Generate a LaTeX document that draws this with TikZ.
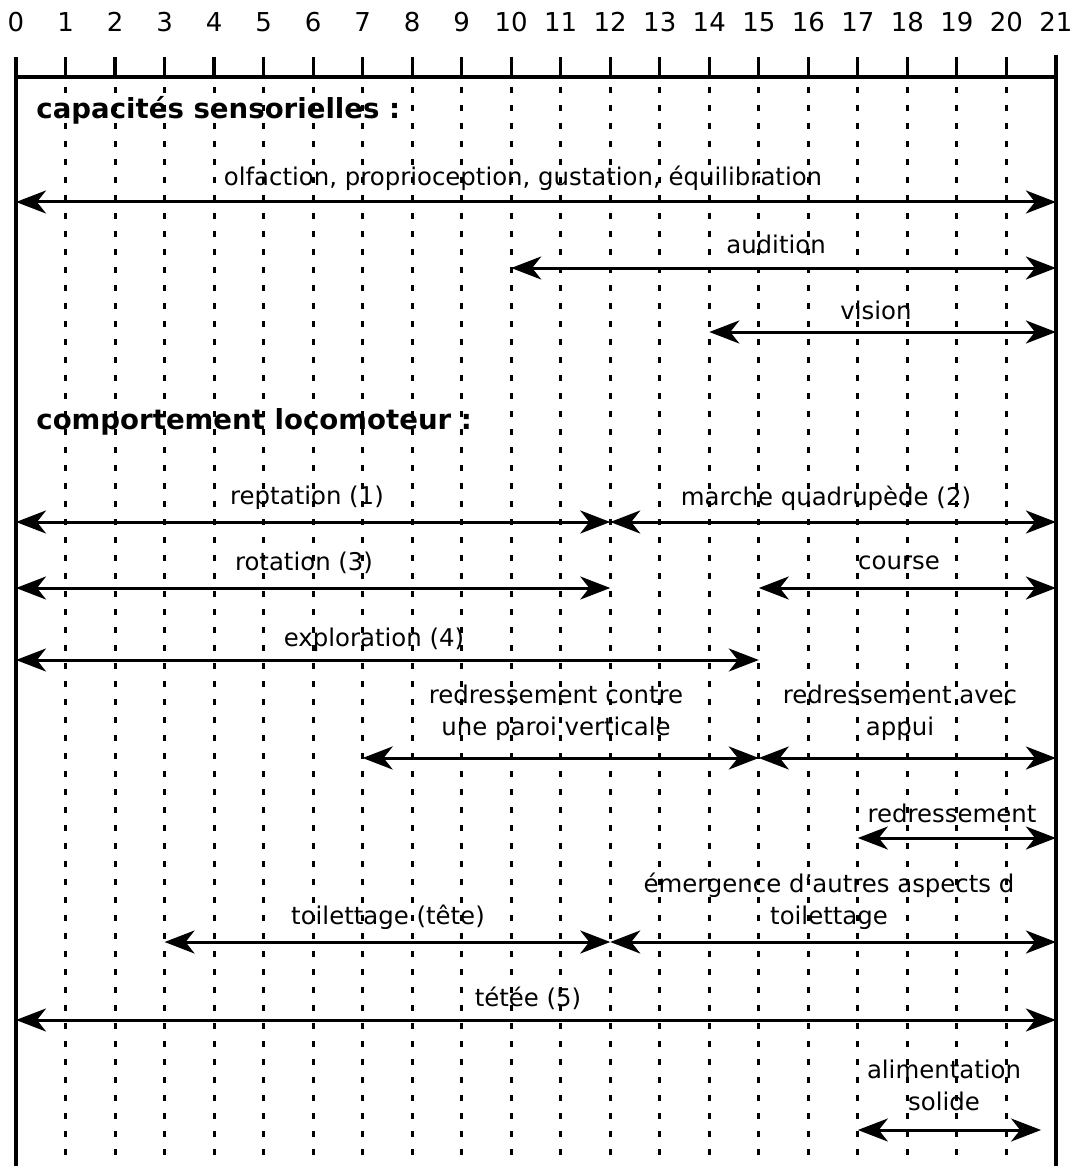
\documentclass[tikz,border=0pt]{standalone}
\usepackage{fontspec}
\setmainfont{DejaVu Sans}
\usetikzlibrary{arrows.meta}
\begin{document}
\begin{tikzpicture}[x=0.5pt,y=-0.5pt,
  frame/.style={line width=1.6pt},
  griddots/.style={line width=1.5pt, dash pattern=on 3pt off 6pt},
  span/.style={line width=1.5pt, {Stealth[length=15pt,width=11.5pt,inset=4.5pt]}-{Stealth[length=15pt,width=11.5pt,inset=4.5pt]}},
  lab/.style={font=\fontsize{12.2pt}{16pt}\selectfont, align=center, inner sep=0pt},
  head/.style={font=\fontsize{13.8pt}{16pt}\selectfont\bfseries, anchor=west, inner sep=0pt},
  num/.style={font=\fontsize{13pt}{14pt}\selectfont, inner sep=0pt}]
\useasboundingbox (0,0) rectangle (1080,1166);
% axis numbers
\foreach \i in {0,...,21} {
  \node[num] (n\i) at ({16+\i*49.52},22) {\i};
}
% frame and axis
\draw[frame] (16,57) -- (16,1166);
\draw[frame] (1056,55) -- (1056,1166);
\draw[frame] (16,77) -- (1056,77);
\foreach \i in {1,...,20} {
  \draw[frame] ({16+\i*49.52},57) -- ({16+\i*49.52},77);
  \draw[griddots] ({16+\i*49.52},87) -- ({16+\i*49.52},1166);
}
% headings
\node[head] (h1) at (36,110) {capacités sensorielles :};
\node[head] (h2) at (36,422) {comportement locomoteur :};
% endpoints
\foreach \i in {0,3,7,10,12,14,15,17,21} {
  \coordinate (x\i) at ({16+\i*49.52},0);
}
% capacités sensorielles
\node[lab] (l1) at (523,178) {olfaction, proprioception, gustation, équilibration};
\coordinate (a1l) at (x0 |- 0,202); \coordinate (a1r) at (x21 |- 0,202);
\draw[span] (a1l) -- (a1r);
\node[lab] (l2) at (776,244) {audition};
\coordinate (a2l) at (x10 |- 0,268); \coordinate (a2r) at (x21 |- 0,268);
\draw[span] (a2l) -- (a2r);
\node[lab] (l3) at (876,310) {vision};
\coordinate (a3l) at (x14 |- 0,332); \coordinate (a3r) at (x21 |- 0,332);
\draw[span] (a3l) -- (a3r);
% comportement locomoteur
\node[lab] (l4) at (307,498) {reptation (1)};
\coordinate (a4l) at (x0 |- 0,522); \coordinate (a4r) at (x12 |- 0,522);
\draw[span] (a4l) -- (a4r);
\node[lab] (l5) at (826,498) {marche quadrupède (2)};
\coordinate (a5r) at (x21 |- 0,522);
\draw[span] (a4r) -- (a5r);
\node[lab] (l6) at (304,563) {rotation (3)};
\coordinate (a6l) at (x0 |- 0,588); \coordinate (a6r) at (x12 |- 0,588);
\draw[span] (a6l) -- (a6r);
\node[lab] (l7) at (899,563) {course};
\coordinate (a7l) at (x15 |- 0,588); \coordinate (a7r) at (x21 |- 0,588);
\draw[span] (a7l) -- (a7r);
\node[lab] (l8) at (374,640) {exploration (4)};
\coordinate (a8l) at (x0 |- 0,660); \coordinate (a8r) at (x15 |- 0,660);
\draw[span] (a8l) -- (a8r);
\node[lab] (l9) at (556,713) {redressement contre\\une paroi verticale};
\coordinate (a9l) at (x7 |- 0,758); \coordinate (a9r) at (x15 |- 0,758);
\draw[span] (a9l) -- (a9r);
\node[lab] (l10) at (900,713) {redressement avec\\appui};
\coordinate (a10r) at (x21 |- 0,758);
\draw[span] (a9r) -- (a10r);
\node[lab] (l11) at (952,813) {redressement};
\coordinate (a11l) at (x17 |- 0,838); \coordinate (a11r) at (x21 |- 0,838);
\draw[span] (a11l) -- (a11r);
\node[lab] (l12) at (829,901) {émergence d'autres aspects d\\toilettage};
\node[lab] (l13) at (388,917) {toilettage (tête)};
\coordinate (a13l) at (x3 |- 0,942); \coordinate (a13r) at (x12 |- 0,942);
\coordinate (a12r) at (x21 |- 0,942);
\draw[span] (a13l) -- (a13r);
\draw[span] (a13r) -- (a12r);
\node[lab] (l14) at (528,998) {tétée (5)};
\coordinate (a14l) at (x0 |- 0,1020); \coordinate (a14r) at (x21 |- 0,1020);
\draw[span] (a14l) -- (a14r);
\node[lab] (l15) at (944,1085) {alimentation\\solide};
\coordinate (a15l) at (x17 |- 0,1130); \coordinate (a15r) at ({16+20.7*49.52},1130);
\draw[span] (a15l) -- (a15r);
\end{tikzpicture}
\end{document}
